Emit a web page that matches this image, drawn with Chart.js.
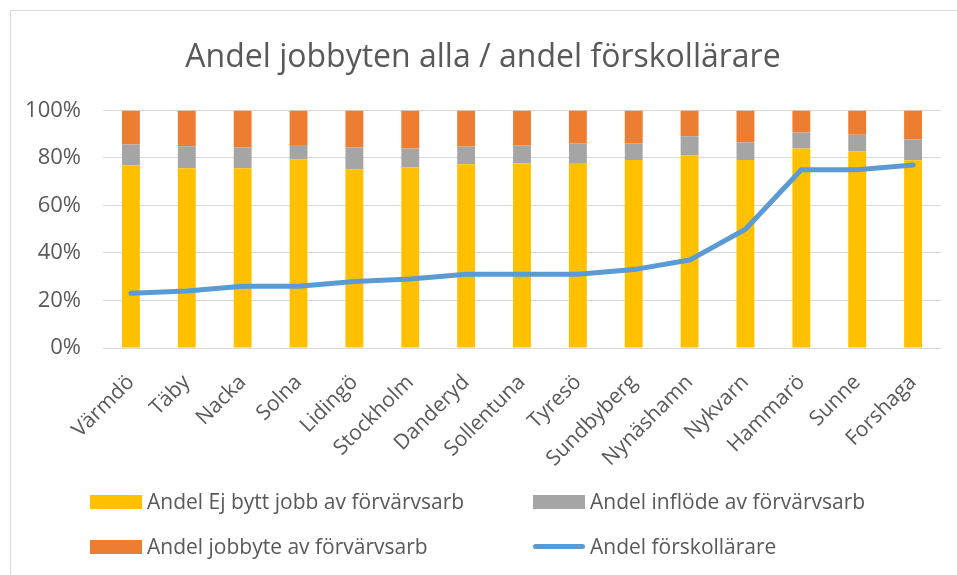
<!DOCTYPE html>
<html>
<head>
<meta charset="utf-8">
<script src="https://cdn.jsdelivr.net/npm/chart.js@4.4.1/dist/chart.umd.min.js"></script>
<style>
  body { margin: 0; background: #fff; font-family: "Open Sans", sans-serif; }
  #wrap { position: relative; width: 957px; height: 575px; overflow: hidden; }
  #frame { position: absolute; left: 10px; top: 10px; width: 1000px; height: 1000px;
           border-left: 1px solid #d9d9d9; border-top: 1px solid #d9d9d9; }
  #box { position: absolute; left: 0; top: 0; width: 957px; height: 575px; }
  .leg { position: absolute; font-size: 21px; color: #595959; white-space: nowrap; line-height: 22px; }
  .sw { position: absolute; }
</style>
</head>
<body>
<div id="wrap">
  <div id="frame"></div>
  <div id="box"><canvas id="myChart"></canvas></div>
  <div id="legend"></div>
</div>
<script>
(() => {
  'use strict'

  // data (percent)
  const kommuner = ['Värmdö', 'Täby', 'Nacka', 'Solna', 'Lidingö', 'Stockholm', 'Danderyd',
    'Sollentuna', 'Tyresö', 'Sundbyberg', 'Nynäshamn', 'Nykvarn', 'Hammarö', 'Sunne', 'Forshaga'];
  const ejBytt = [76.9, 75.7, 75.6, 79.4, 75.2, 76.0, 77.3, 77.7, 77.5, 79.1, 81.0, 79.1, 84.0, 82.7, 79.0];
  const inflode = [8.7, 9.2, 8.8, 6.0, 9.2, 8.0, 7.5, 7.5, 8.7, 7.1, 8.1, 7.4, 6.7, 7.1, 8.7];
  const jobbyte = [14.4, 15.1, 15.6, 14.6, 15.6, 16.0, 15.2, 14.8, 13.8, 13.8, 10.9, 13.5, 9.3, 10.2, 12.3];
  const forskollarare = [23, 24, 26, 26, 28, 29, 31, 31, 31, 33, 37, 50, 75, 75, 77];
  const yTicks = [0, 20, 40, 60, 80, 100];

  const grey = '#595959';

  const ctx = document.getElementById('myChart');
  const myChart = new Chart(ctx, {
    type: 'bar',
    data: {
      labels: kommuner,
      datasets: [
        { label: 'Andel Ej bytt jobb av förvärvsarb', data: ejBytt, backgroundColor: '#ffc000', order: 1 },
        { label: 'Andel inflöde av förvärvsarb', data: inflode, backgroundColor: '#a5a5a5', order: 1 },
        { label: 'Andel jobbyte av förvärvsarb', data: jobbyte, backgroundColor: '#ed7d31', order: 1 },
        {
          type: 'line', label: 'Andel förskollärare', data: forskollarare, stack: 'line',
          borderColor: '#5b9bd5', backgroundColor: '#5b9bd5', borderWidth: 5,
          pointRadius: 0, tension: 0, borderCapStyle: 'round', borderJoinStyle: 'round', order: 0
        }
      ]
    },
    options: {
      responsive: true,
      maintainAspectRatio: false,
      animation: false,
      layout: { padding: { left: 25, right: 16, top: 0, bottom: 95 } },
      datasets: { bar: { barPercentage: 0.32, categoryPercentage: 1 } },
      scales: {
        x: {
          stacked: true,
          grid: { display: false },
          border: { display: false },
          ticks: {
            color: grey, font: { family: 'Open Sans', size: 21 },
            minRotation: 45, maxRotation: 45, padding: 14, autoSkip: false
          },
          afterFit: s => { s.height = 132; }
        },
        y: {
          stacked: true,
          min: 0, max: 100,
          afterBuildTicks: s => { s.ticks = yTicks.map(v => ({ value: v })); },
          grid: { color: '#d9d9d9', lineWidth: 1, drawTicks: false },
          border: { display: false },
          ticks: { color: grey, font: { family: 'Open Sans', size: 22 }, padding: 22, callback: v => v + '%' },
          afterFit: s => { s.width = 78; }
        }
      },
      plugins: {
        legend: { display: false },
        tooltip: { enabled: false },
        title: {
          display: true,
          text: 'Andel jobbyten alla / andel förskollärare',
          color: grey,
          font: { family: 'Open Sans', size: 32, weight: 'normal' },
          padding: { top: 39, bottom: 33 }
        }
      }
    }
  });

  // legend in two columns, like the original
  const legend = document.getElementById('legend');
  const spots = [[90, 502], [533, 502], [90, 547], [533, 547]];
  myChart.data.datasets.forEach((ds, i) => {
    const [x, y] = spots[i];
    const sw = document.createElement('div');
    sw.className = 'sw';
    if (ds.type === 'line') {
      Object.assign(sw.style, { left: x + 'px', top: (y - 3) + 'px', width: '52px', height: '5px',
        borderRadius: '3px', background: ds.borderColor });
    } else {
      Object.assign(sw.style, { left: x + 'px', top: (y - 7) + 'px', width: '52px', height: '14px',
        background: ds.backgroundColor });
    }
    const t = document.createElement('div');
    t.className = 'leg';
    t.textContent = ds.label;
    Object.assign(t.style, { left: (x + 57) + 'px', top: (y - 12) + 'px' });
    legend.appendChild(sw);
    legend.appendChild(t);
  });
})();
</script>
</body>
</html>
